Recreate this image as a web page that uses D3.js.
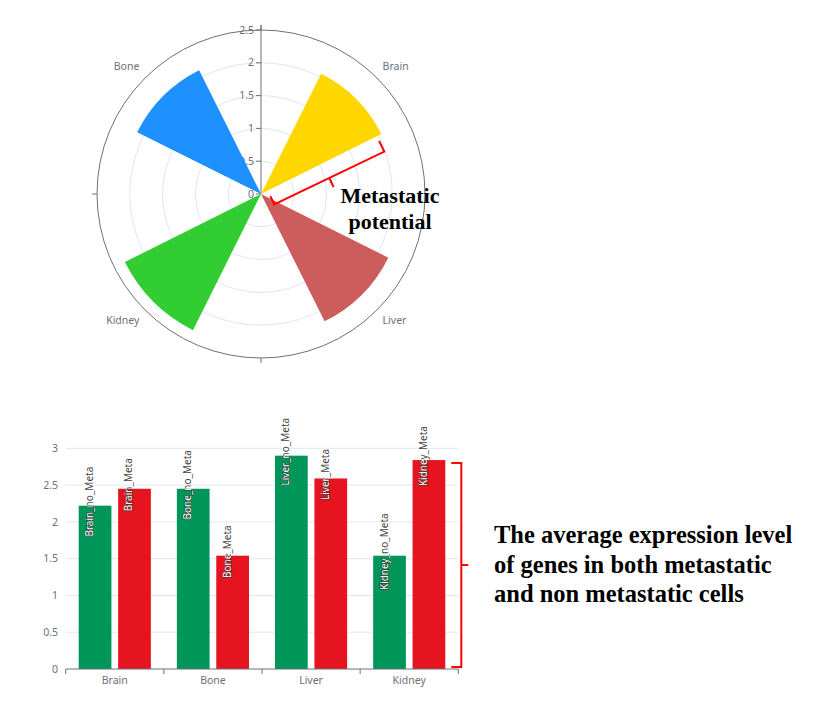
<!DOCTYPE html>
<html>
<head>
<meta charset="utf-8">
<script src="https://cdn.jsdelivr.net/npm/d3@7"></script>
<style>
  body { margin: 0; background: #fff; }
  svg { display: block; }
</style>
</head>
<body>
<div id="chart"></div>
<script>
// polar (rose) chart data
const polarCats = ["Brain", "Liver", "Kidney", "Bone"];
const polarValues = [2.05, 2.17, 2.32, 2.11];
const polarColors = ["#FFD700", "#CD5C5C", "#32CD32", "#1E90FF"];
const radialTicks = [0, 0.5, 1, 1.5, 2, 2.5];

// grouped bar chart data
const barCats = ["Brain", "Bone", "Liver", "Kidney"];
const seriesNames = ["no_Meta", "Meta"];
const noMetaValues = [2.22, 2.45, 2.9, 1.54];
const metaValues = [2.45, 1.54, 2.59, 2.84];
const barTicks = [0, 0.5, 1, 1.5, 2, 2.5, 3];
const seriesColors = ["#009659", "#E6141F"];

const width = 813;
const height = 712;
const axisGray = "#6E7079";
const splitGray = "#E0E6F1";
const sansFont = "'Noto Sans', 'Liberation Sans', sans-serif";
const serifFont = "'Liberation Serif', 'Times New Roman', serif";

const svg = d3.select("#chart").append("svg")
  .attr("width", width)
  .attr("height", height)
  .attr("viewBox", [0, 0, width, height]);

// ---------- polar chart ----------
const cx = 261, cy = 194, R = 164;
const r = d3.scaleLinear().domain([0, 2.5]).range([0, R]);
const ang = d3.scaleBand().domain(polarCats).range([0, 2 * Math.PI])
  .paddingInner(0.59).paddingOuter(0.295);
const step = 2 * Math.PI / polarCats.length;

const polar = svg.append("g").attr("transform", `translate(${cx},${cy})`);

// split circles
polar.append("g")
  .selectAll("circle")
  .data(radialTicks.filter(t => t > 0 && t < 2.5))
  .join("circle")
  .attr("r", d => r(d))
  .attr("fill", "none")
  .attr("stroke", splitGray);

// angle axis line + ticks
polar.append("circle")
  .attr("r", R)
  .attr("fill", "none")
  .attr("stroke", axisGray);

polar.append("g")
  .selectAll("line")
  .data(d3.range(polarCats.length).map(i => i * step))
  .join("line")
  .attr("x1", a => Math.sin(a) * R)
  .attr("y1", a => -Math.cos(a) * R)
  .attr("x2", a => Math.sin(a) * (R + 5))
  .attr("y2", a => -Math.cos(a) * (R + 5))
  .attr("stroke", axisGray);

// angle labels
polar.append("g")
  .attr("font-family", sansFont)
  .attr("font-size", 10.5)
  .attr("fill", axisGray)
  .selectAll("text")
  .data(polarCats)
  .join("text")
  .each(function(d) {
    const a = ang(d) + ang.bandwidth() / 2;
    const sx = Math.sin(a), sy = -Math.cos(a);
    d3.select(this)
      .attr("x", sx * (R + 8))
      .attr("y", sy * (R + 8))
      .attr("dy", sy < 0 ? -2 : 8)
      .attr("text-anchor", sx > 0 ? "start" : "end")
      .text(d);
  });

// radial axis labels (drawn under the wedges)
const radial = polar.append("g");
radial.selectAll("text")
  .data(radialTicks)
  .join("text")
  .attr("x", -7)
  .attr("y", d => -r(d))
  .attr("dy", "0.35em")
  .attr("text-anchor", "end")
  .attr("font-family", sansFont)
  .attr("font-size", 10.5)
  .attr("fill", axisGray)
  .text(d => d);

// wedges
const arc = d3.arc()
  .innerRadius(0)
  .outerRadius(d => r(d.value))
  .startAngle(d => ang(d.cat))
  .endAngle(d => ang(d.cat) + ang.bandwidth());

polar.append("g")
  .selectAll("path")
  .data(polarCats.map((c, i) => ({ cat: c, value: polarValues[i], color: polarColors[i] })))
  .join("path")
  .attr("d", arc)
  .attr("fill", d => d.color);

// radial axis line + ticks
radial.append("line")
  .attr("x1", 0).attr("y1", 0)
  .attr("x2", 0).attr("y2", -(R + 5))
  .attr("stroke", axisGray);
radial.append("g")
  .selectAll("line")
  .data(radialTicks)
  .join("line")
  .attr("x1", -5).attr("x2", 0)
  .attr("y1", d => -r(d)).attr("y2", d => -r(d))
  .attr("stroke", axisGray);

// red brace next to the Brain wedge
{
  const a = ang("Brain") + ang.bandwidth() + 0.017;
  const u = [Math.sin(a), -Math.cos(a)];
  const v = [Math.cos(a), Math.sin(a)];
  const pt = (s, o) => [u[0] * s + v[0] * o, u[1] * s + v[1] * o];
  const s0 = 7.5, s1 = r(polarValues[0]) - 5, off = 15;
  const sm = (s0 + s1) / 2;
  const line = d3.line();
  polar.append("path")
    .attr("d", line([pt(s0, off - 9), pt(s0, off), pt(s1, off), pt(s1, off - 12)]))
    .attr("fill", "none")
    .attr("stroke", "#F00")
    .attr("stroke-width", 2);
  polar.append("path")
    .attr("d", line([pt(sm, off), pt(sm, off + 10)]))
    .attr("fill", "none")
    .attr("stroke", "#F00")
    .attr("stroke-width", 2);
}

svg.append("text")
  .attr("x", 390)
  .attr("y", 203)
  .attr("text-anchor", "middle")
  .attr("font-family", serifFont)
  .attr("font-weight", "bold")
  .attr("font-size", 22)
  .attr("fill", "#000")
  .call(t => t.append("tspan").attr("x", 390).text("Metastatic"))
  .call(t => t.append("tspan").attr("x", 390).attr("dy", 26).text("potential"));

// ---------- grouped bar chart ----------
const x = d3.scaleBand().domain(barCats).range([65.7, 458.3]);
const xs = d3.scaleBand().domain(seriesNames).range([0, x.bandwidth()])
  .paddingInner(0.17).paddingOuter(0.33);
const y = d3.scaleLinear().domain([0, 3]).range([669, 448.3]);

const bars = svg.append("g");

// grid
bars.append("g")
  .selectAll("line")
  .data(barTicks.filter(t => t > 0))
  .join("line")
  .attr("x1", x.range()[0]).attr("x2", x.range()[1])
  .attr("y1", d => y(d)).attr("y2", d => y(d))
  .attr("stroke", splitGray);

// y labels
bars.append("g")
  .selectAll("text")
  .data(barTicks)
  .join("text")
  .attr("x", 58)
  .attr("y", d => y(d))
  .attr("dy", "0.35em")
  .attr("text-anchor", "end")
  .attr("font-family", sansFont)
  .attr("font-size", 10.5)
  .attr("fill", axisGray)
  .text(d => d);

const barData = [];
barCats.forEach((c, i) => {
  barData.push({ cat: c, s: 0, value: noMetaValues[i] });
  barData.push({ cat: c, s: 1, value: metaValues[i] });
});

const defs = svg.append("defs");

bars.append("g")
  .selectAll("rect")
  .data(barData)
  .join("rect")
  .attr("x", d => x(d.cat) + xs(seriesNames[d.s]))
  .attr("y", d => y(d.value))
  .attr("width", xs.bandwidth())
  .attr("height", d => y(0) - y(d.value))
  .attr("fill", d => seriesColors[d.s]);

// x axis
bars.append("line")
  .attr("x1", x.range()[0]).attr("x2", x.range()[1])
  .attr("y1", y(0)).attr("y2", y(0))
  .attr("stroke", axisGray);
bars.append("g")
  .selectAll("line")
  .data(barCats.map(c => x(c)).concat([x.range()[1]]))
  .join("line")
  .attr("x1", d => d).attr("x2", d => d)
  .attr("y1", y(0)).attr("y2", y(0) + 5)
  .attr("stroke", axisGray);
bars.append("g")
  .selectAll("text")
  .data(barCats)
  .join("text")
  .attr("x", d => x(d) + x.bandwidth() / 2)
  .attr("y", 684)
  .attr("text-anchor", "middle")
  .attr("font-family", sansFont)
  .attr("font-size", 10.5)
  .attr("fill", axisGray)
  .text(d => d);

// bar labels: dark above the bar top, white with outline inside the bar
barData.forEach((d, i) => {
  const bx = x(d.cat) + xs(seriesNames[d.s]);
  const top = y(d.value);
  const lx = bx + xs.bandwidth() / 2 - 2;
  const ly = top - 4;
  const label = `${d.cat}_${seriesNames[d.s]}`;
  defs.append("clipPath").attr("id", `above${i}`)
    .append("rect").attr("x", bx - 20).attr("y", 0)
    .attr("width", xs.bandwidth() + 40).attr("height", top);
  defs.append("clipPath").attr("id", `inside${i}`)
    .append("rect").attr("x", bx).attr("y", top)
    .attr("width", xs.bandwidth()).attr("height", y(0) - top);
  [["above", "#444", "#fff", 2], ["inside", "#fff", "#333", 1.1]].forEach(([k, fill, stroke, sw]) => {
    bars.append("g")
      .attr("clip-path", `url(#${k}${i})`)
      .append("text")
      .attr("transform", `translate(${lx},${ly}) rotate(-90)`)
      .attr("text-anchor", "middle")
      .attr("font-family", sansFont)
      .attr("font-size", 10)
      .attr("fill", fill)
      .attr("stroke", stroke)
      .attr("stroke-width", sw)
      .attr("paint-order", "stroke")
      .text(label);
  });
});

// red brace on the right of the bar chart
{
  const bx = x.range()[1] + 3;
  const top = y(metaValues[3]) + 3;
  const bottom = y(0) - 2;
  const mid = (top + bottom) / 2;
  bars.append("path")
    .attr("d", d3.line()([[bx - 10, top], [bx, top], [bx, bottom], [bx - 10, bottom]]))
    .attr("fill", "none")
    .attr("stroke", "#F00")
    .attr("stroke-width", 2);
  bars.append("path")
    .attr("d", d3.line()([[bx, mid], [bx + 7, mid]]))
    .attr("fill", "none")
    .attr("stroke", "#F00")
    .attr("stroke-width", 2);
}

svg.append("text")
  .attr("font-family", serifFont)
  .attr("font-weight", "bold")
  .attr("font-size", 24.5)
  .attr("fill", "#000")
  .selectAll("tspan")
  .data(["The average expression level", "of genes in both metastatic", "and non metastatic cells"])
  .join("tspan")
  .attr("x", 494)
  .attr("y", (d, i) => 543 + i * 29.5)
  .text(d => d);
</script>
</body>
</html>
